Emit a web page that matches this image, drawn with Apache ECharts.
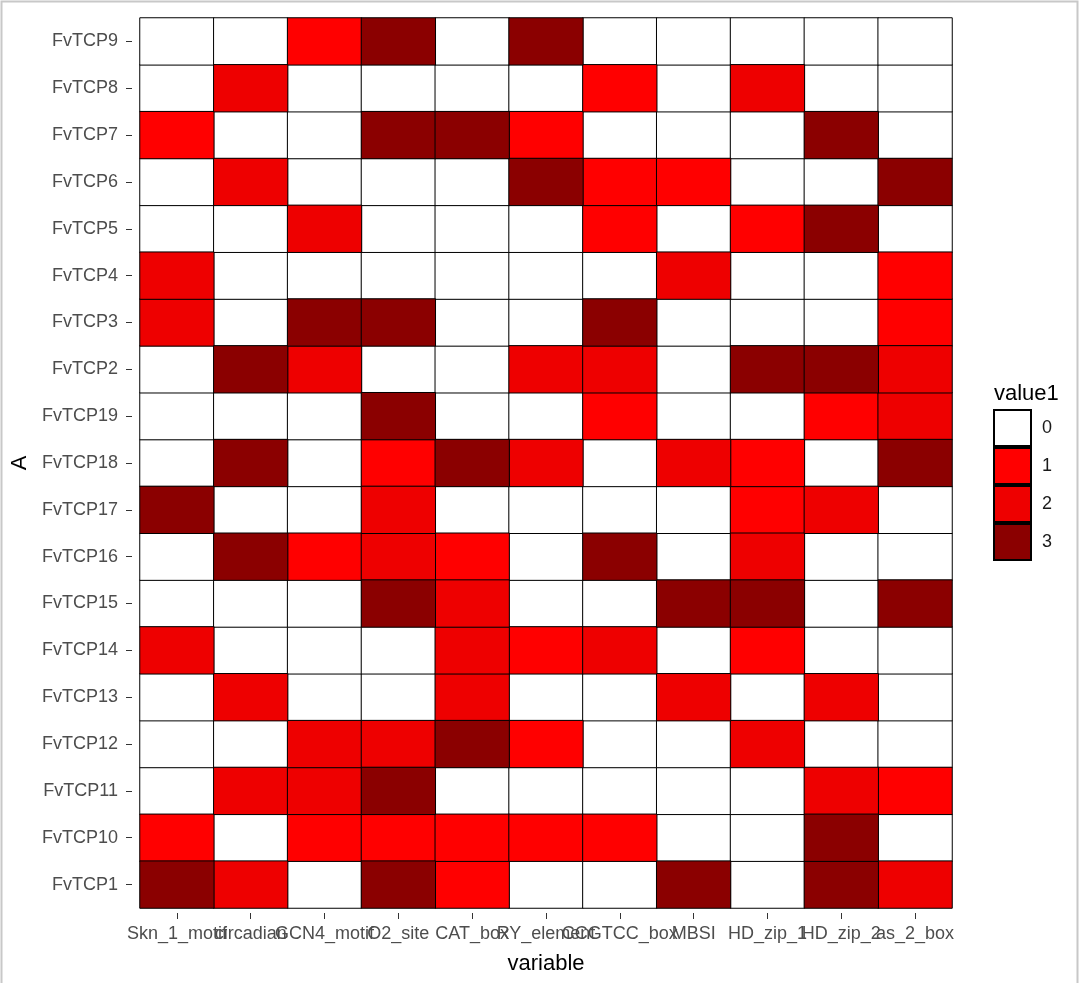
<!DOCTYPE html>
<html>
<head>
<meta charset="utf-8">
<script src="https://cdn.jsdelivr.net/npm/echarts@6/dist/echarts.min.js"></script>
<style>
  html, body { margin: 0; padding: 0; background: #fff; }
  #chart { width: 1080px; height: 983px; }
</style>
</head>
<body>
<div id="chart"></div>
<script>
// Categories
const xCats = ['Skn_1_motif', 'circadian', 'GCN4_motif', 'O2_site', 'CAT_box', 'RY_element',
               'CCGTCC_box', 'MBSI', 'HD_zip_1', 'HD_zip_2', 'as_2_box'];
// y categories, bottom to top
const yCats = ['FvTCP1', 'FvTCP10', 'FvTCP11', 'FvTCP12', 'FvTCP13', 'FvTCP14', 'FvTCP15',
               'FvTCP16', 'FvTCP17', 'FvTCP18', 'FvTCP19', 'FvTCP2', 'FvTCP3', 'FvTCP4',
               'FvTCP5', 'FvTCP6', 'FvTCP7', 'FvTCP8', 'FvTCP9'];
const levels = ['0', '1', '2', '3'];

// Values per gene (in xCats order)
const vFvTCP1  = [3, 2, 0, 3, 1, 0, 0, 3, 0, 3, 2];
const vFvTCP10 = [1, 0, 1, 1, 1, 1, 1, 0, 0, 3, 0];
const vFvTCP11 = [0, 2, 2, 3, 0, 0, 0, 0, 0, 2, 1];
const vFvTCP12 = [0, 0, 2, 2, 3, 1, 0, 0, 2, 0, 0];
const vFvTCP13 = [0, 2, 0, 0, 2, 0, 0, 2, 0, 2, 0];
const vFvTCP14 = [2, 0, 0, 0, 2, 1, 2, 0, 1, 0, 0];
const vFvTCP15 = [0, 0, 0, 3, 2, 0, 0, 3, 3, 0, 3];
const vFvTCP16 = [0, 3, 1, 2, 1, 0, 3, 0, 2, 0, 0];
const vFvTCP17 = [3, 0, 0, 2, 0, 0, 0, 0, 1, 2, 0];
const vFvTCP18 = [0, 3, 0, 1, 3, 2, 0, 2, 1, 0, 3];
const vFvTCP19 = [0, 0, 0, 3, 0, 0, 1, 0, 0, 1, 2];
const vFvTCP2  = [0, 3, 2, 0, 0, 2, 2, 0, 3, 3, 2];
const vFvTCP3  = [2, 0, 3, 3, 0, 0, 3, 0, 0, 0, 1];
const vFvTCP4  = [2, 0, 0, 0, 0, 0, 0, 2, 0, 0, 1];
const vFvTCP5  = [0, 0, 2, 0, 0, 0, 1, 0, 1, 3, 0];
const vFvTCP6  = [0, 2, 0, 0, 0, 3, 1, 1, 0, 0, 3];
const vFvTCP7  = [1, 0, 0, 3, 3, 1, 0, 0, 0, 3, 0];
const vFvTCP8  = [0, 2, 0, 0, 0, 0, 1, 0, 2, 0, 0];
const vFvTCP9  = [0, 0, 1, 3, 0, 3, 0, 0, 0, 0, 0];

const valueRows = [vFvTCP1, vFvTCP10, vFvTCP11, vFvTCP12, vFvTCP13, vFvTCP14, vFvTCP15,
                   vFvTCP16, vFvTCP17, vFvTCP18, vFvTCP19, vFvTCP2, vFvTCP3, vFvTCP4,
                   vFvTCP5, vFvTCP6, vFvTCP7, vFvTCP8, vFvTCP9];

const levelColors = ['#FFFFFF', '#FF0000', '#EE0000', '#8B0000'];
const FONT = '"Liberation Sans", Arial, sans-serif';

const cells = [];
valueRows.forEach((row, yi) => row.forEach((v, xi) => cells.push([xi, yi, v])));

const series = levels.map((lv, li) => ({
  name: lv,
  type: 'heatmap',
  data: cells.filter(c => c[2] === li),
  itemStyle: { color: levelColors[li], borderColor: '#000', borderWidth: 1 },
  emphasis: { disabled: true },
  animation: false
}));

const chart = echarts.init(document.getElementById('chart'), null, { renderer: 'canvas' });
chart.setOption({
  backgroundColor: '#fff',
  animation: false,
  textStyle: { fontFamily: FONT },
  grid: { left: 140, right: 128, top: 18, bottom: 75 },
  title: {
    text: 'value1', left: 989, top: 378,
    textStyle: { fontFamily: FONT, fontSize: 22, fontWeight: 'normal', color: '#000' }
  },
  legend: {
    data: levels,
    orient: 'vertical',
    left: 993, top: 409,
    padding: 0,
    itemWidth: 37, itemHeight: 36, itemGap: 0,
    icon: 'rect',
    selectedMode: false,
    textStyle: { fontFamily: FONT, fontSize: 18, color: '#1a1a1a', padding: [0, 0, 0, 6] }
  },
  xAxis: {
    type: 'category',
    data: xCats,
    offset: 5,
    axisLine: { show: false },
    axisTick: { show: true, alignWithLabel: true, length: 6, lineStyle: { color: '#333' } },
    axisLabel: { interval: 0, color: '#4D4D4D', fontSize: 18, margin: 12, fontFamily: FONT },
    splitLine: { show: false },
    name: 'variable', nameLocation: 'middle', nameGap: 40,
    nameTextStyle: { fontSize: 22, color: '#000', fontFamily: FONT }
  },
  yAxis: {
    type: 'category',
    data: yCats,
    offset: 8,
    axisLine: { show: false },
    axisTick: { show: true, alignWithLabel: true, length: 6, lineStyle: { color: '#333' } },
    axisLabel: { interval: 0, color: '#4D4D4D', fontSize: 18, margin: 14, fontFamily: FONT },
    splitLine: { show: false },
    name: 'A', nameLocation: 'middle', nameGap: 94,
    nameTextStyle: { fontSize: 22, color: '#000', fontFamily: FONT }
  },
  graphic: [{
    type: 'rect', silent: true,
    shape: { x: 1.5, y: 1.5, width: 1076, height: 1000 },
    style: { fill: null, stroke: '#c8c8c8', lineWidth: 2 }
  }],
  series: series
});
</script>
</body>
</html>
